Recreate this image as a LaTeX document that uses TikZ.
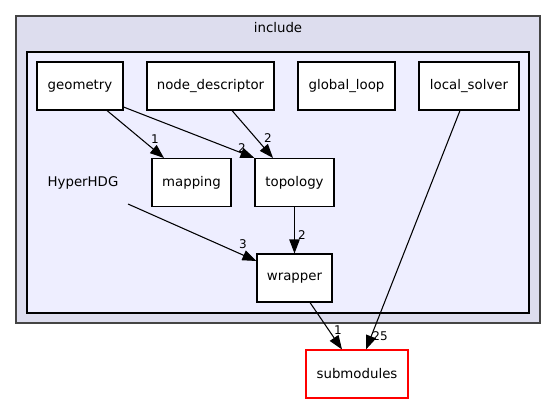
\documentclass[tikz,border=0pt]{standalone}
\usepackage{fontspec}
\setmainfont{DejaVu Sans}
\usetikzlibrary{arrows.meta,calc}
\definecolor{outerfill}{HTML}{DDDDEE}
\definecolor{innerfill}{HTML}{EEEEFF}
\definecolor{outerdraw}{HTML}{444444}
\begin{document}
\begin{tikzpicture}[x=0.75pt,y=-0.75pt,
  dirbox/.style={draw=black, fill=white, line width=0.8pt, minimum height=36pt, inner sep=0pt},
  extbox/.style={draw=red, fill=white, line width=0.8pt, minimum height=36pt, inner sep=0pt},
  edge/.style={draw=black, line width=0.8pt, -{Triangle[length=10.5pt,width=7.8pt]}},
  lbl/.style={inner sep=0pt, font=\fontsize{9}{10}\selectfont},
  plain/.style={inner sep=0pt}]
\useasboundingbox (0,0) rectangle (556,404);
% clusters
\draw[outerdraw, fill=outerfill, line width=1.3pt] (16,16) rectangle (540,323);
\node[plain] (includelbl) at (278,28) {include};
\draw[black, fill=innerfill, line width=0.9pt] (27,52) rectangle (529,313);
% nodes
\node[dirbox, minimum width=64.5pt] (geometry) at (80,86) {geometry};
\node[dirbox, minimum width=95.25pt] (nodedesc) at (210.5,86) {node\_descriptor};
\node[dirbox, minimum width=72.75pt] (globalloop) at (346.5,86) {global\_loop};
\node[dirbox, minimum width=75pt] (localsolver) at (469,86) {local\_solver};
\node[dirbox, minimum width=59.25pt] (mapping) at (191.5,182.5) {mapping};
\node[dirbox, minimum width=59.25pt] (topology) at (294.5,182.5) {topology};
\node[dirbox, minimum width=56.25pt] (wrapper) at (294.5,278) {wrapper};
\node[extbox, minimum width=76.5pt] (submodules) at (357,374) {submodules};
\node[plain] (hyper) at (83,183) {HyperHDG};
\coordinate (hyperout) at (128,204);
% edges
\draw[edge] ($(geometry.south)+(27,0)$) -- ($(mapping.north)+(-27.5,0)$);
\draw[edge] ($(geometry.east)+(0,21)$) -- (topology.north west);
\draw[edge] ($(nodedesc.south)+(21.5,0)$) -- ($(topology.north)+(-21.5,0)$);
\draw[edge] (topology.south) -- (wrapper.north);
\draw[edge] (hyperout) -- ($(wrapper.west)+(0,-17)$);
\draw[edge] ($(wrapper.south)+(15.5,0)$) -- ($(submodules.north)+(-15,0)$);
\draw[edge] ($(localsolver.south)+(-9,0)$) -- ($(submodules.north)+(9,0)$);
% edge labels
\node[lbl] (l1) at (155,139) {1};
\node[lbl] (l2) at (242,148) {2};
\node[lbl] (l3) at (268,138) {2};
\node[lbl] (l4) at (302,235) {2};
\node[lbl] (l5) at (243,244) {3};
\node[lbl] (l6) at (338,330) {1};
\node[lbl] (l7) at (380,336) {25};
\end{tikzpicture}
\end{document}
